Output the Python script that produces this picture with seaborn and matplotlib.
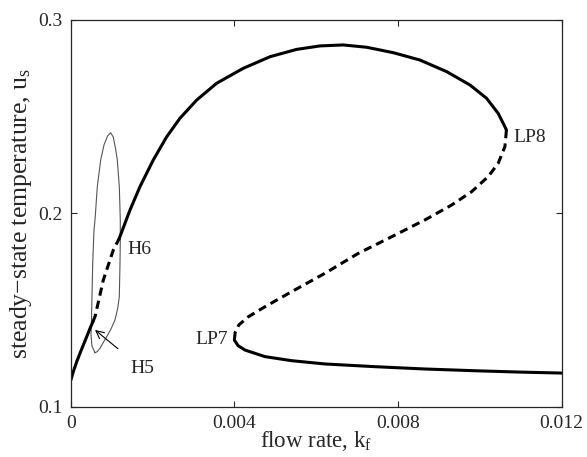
import numpy as np
import pandas as pd
import matplotlib
matplotlib.use("Agg")
import matplotlib.pyplot as plt
import seaborn as sns

# stable lower part of the main branch (0 -> H5)
kf_low = [0.0, 0.000064, 0.000147, 0.000227, 0.000308, 0.000391, 0.000472, 0.000545]
us_low = [0.1135, 0.1181, 0.1233, 0.1276, 0.1319, 0.1362, 0.1405, 0.1440]

# unstable segment between the Hopf points (H5 -> H6)
kf_h = [0.000545, 0.000600, 0.000797, 0.001041, 0.001188]
us_h = [0.1440, 0.1470, 0.1655, 0.1810, 0.1871]

# stable upper branch (H6 -> LP8)
kf_up = [0.001188, 0.001449, 0.001693, 0.002018, 0.002346, 0.002671, 0.003079,
         0.003568, 0.004217, 0.004870, 0.005522, 0.006092, 0.006661, 0.007233,
         0.007883, 0.008535, 0.009188, 0.009757, 0.010165, 0.010448, 0.010612,
         0.010649]
us_up = [0.1871, 0.2017, 0.2138, 0.2276, 0.2396, 0.2492, 0.2586,
         0.2673, 0.2750, 0.2810, 0.2848, 0.2866, 0.2871, 0.2859,
         0.2831, 0.2793, 0.2733, 0.2664, 0.2595, 0.2517, 0.2448,
         0.2431]

# unstable middle branch (LP8 -> LP7)
kf_mid = [0.010649, 0.010612, 0.010448, 0.010204, 0.009798, 0.009310, 0.008657,
          0.007844, 0.007028, 0.006214, 0.005400, 0.004748, 0.004340, 0.004110,
          0.004020, 0.004000]
us_mid = [0.2431, 0.2345, 0.2259, 0.2190, 0.2112, 0.2043, 0.1966,
          0.1879, 0.1793, 0.1690, 0.1595, 0.1517, 0.1465, 0.1423,
          0.1385, 0.1345]

# stable lower branch (LP7 -> end)
kf_bot = [0.004000, 0.004090, 0.004259, 0.004748, 0.005400, 0.006214, 0.007436,
          0.008657, 0.009879, 0.010979, 0.012000]
us_bot = [0.1345, 0.1316, 0.1293, 0.1259, 0.1238, 0.1221, 0.1207,
          0.1195, 0.1186, 0.1179, 0.1174]

# periodic orbit envelope (max/min) between H5 and H6
kf_orb = [0.000594, 0.000520, 0.000496, 0.000508, 0.000520, 0.000538, 0.000569,
          0.000594, 0.000650, 0.000733, 0.000814, 0.000900, 0.000977,
          0.001040, 0.001100, 0.001139, 0.001188, 0.001212, 0.001212,
          0.001205, 0.001188, 0.001150, 0.001082, 0.000980, 0.000880,
          0.000790, 0.000716, 0.000650, 0.000594]
us_orb = [0.1279, 0.1314, 0.1371, 0.1450, 0.1569, 0.1742, 0.1914,
          0.1965, 0.2138, 0.2276, 0.2354, 0.2400, 0.2417,
          0.2395, 0.2330, 0.2276, 0.2138, 0.1966, 0.1862,
          0.1743, 0.1569, 0.1510, 0.1448, 0.1400, 0.1362,
          0.1330, 0.1302, 0.1285, 0.1279]

x_ticks = [0, 0.004, 0.008, 0.012]
x_ticklabels = ["0", "0.004", "0.008", "0.012"]
y_ticks = [0.1, 0.2, 0.3]
y_ticklabels = ["0.1", "0.2", "0.3"]

sns.set_style("ticks")
plt.rcParams["font.family"] = ["Liberation Serif", "DejaVu Serif"]
plt.rcParams["mathtext.fontset"] = "custom"
plt.rcParams["mathtext.rm"] = "Liberation Serif"
plt.rcParams["mathtext.it"] = "Liberation Serif:italic"
plt.rcParams["xtick.direction"] = "in"
plt.rcParams["ytick.direction"] = "in"

fig = plt.figure(figsize=(5.87, 4.57), dpi=100)
ax = fig.add_axes([70.7 / 587, 1 - 406.7 / 457, (561.7 - 70.7) / 587, (406.7 - 20) / 457])

line_kw = dict(color="black", linewidth=2.2, sort=False, estimator=None, ax=ax)

sns.lineplot(x=kf_orb, y=us_orb, color="#555555", linewidth=0.8, sort=False, estimator=None, ax=ax)
sns.lineplot(x=kf_low, y=us_low, **line_kw)
sns.lineplot(x=kf_up, y=us_up, **line_kw)
sns.lineplot(x=kf_bot, y=us_bot, **line_kw)
l1 = sns.lineplot(x=kf_h, y=us_h, **line_kw).lines[-1]
l1.set_dashes([2.7, 1.7])
l2 = sns.lineplot(x=kf_mid, y=us_mid, **line_kw).lines[-1]
l2.set_dashes([2.7, 1.7])

ax.set_xlim(0, 0.012)
ax.set_ylim(0.1, 0.3)
ax.set_xticks(x_ticks)
ax.set_xticklabels(x_ticklabels)
ax.set_yticks(y_ticks)
ax.set_yticklabels(y_ticklabels)
ax.tick_params(labelsize=14, length=4, width=0.8, top=True, right=True, pad=6)
for s in ax.spines.values():
    s.set_linewidth(0.9)

ax.set_xlabel(r"flow rate, k$_\mathrm{f}$", fontsize=16.5, labelpad=-2)
ax.set_ylabel(r"steady$-$state temperature, u$_\mathrm{s}$", fontsize=18.5, labelpad=3)

ax.text(0.00138, 0.1815, "H6", fontsize=14, va="center", ha="left")
ax.text(0.01081, 0.2392, "LP8", fontsize=14, va="center", ha="left")
ax.text(0.00385, 0.1345, "LP7", fontsize=14, va="center", ha="right")
ax.annotate("H5", xy=(0.000594, 0.1397), xytext=(0.00145, 0.1198), fontsize=14,
            va="center", ha="left",
            arrowprops=dict(arrowstyle="->", color="black", lw=0.8,
                            shrinkA=9, shrinkB=0))

fig.savefig("out.png", dpi=100)
